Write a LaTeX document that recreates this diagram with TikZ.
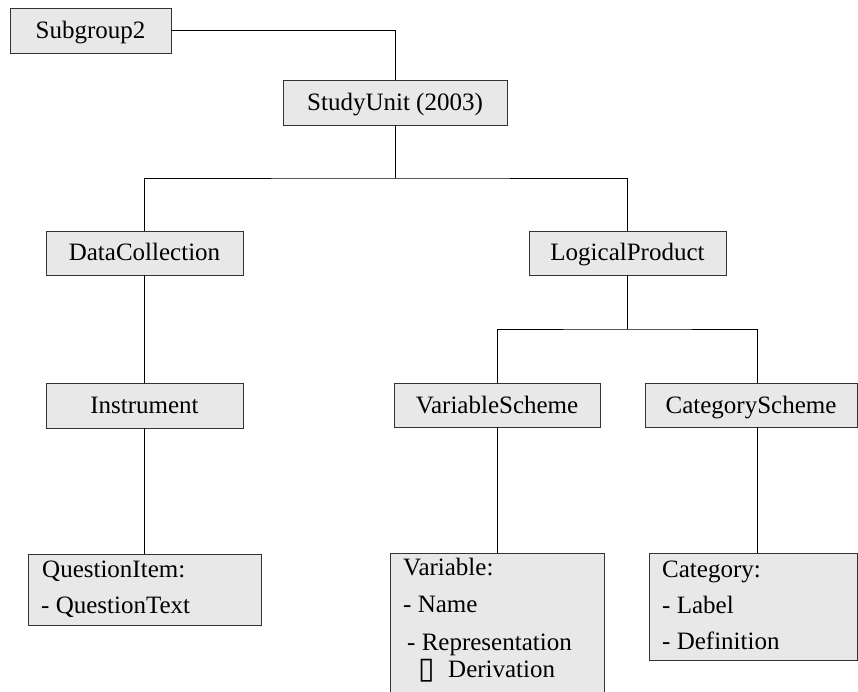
\documentclass[tikz,border=0pt]{standalone}
\usepackage{fontspec}
\setmainfont{Liberation Serif}
\newfontfamily\symfont{DejaVu Sans}
\definecolor{boxgray}{HTML}{E8E8E8}
\definecolor{boxline}{HTML}{333333}
\begin{document}
\begin{tikzpicture}[x=1pt,y=-1pt,
  box/.style={draw=boxline, fill=boxgray, line width=0.8pt, inner sep=0pt, font=\fontsize{25}{30}\selectfont},
  lbox/.style={box, text height=22pt, text depth=6pt},
  conn/.style={draw=black, line width=0.8pt},
  txt/.style={anchor=base west, inner sep=0pt, font=\fontsize{25}{30}\selectfont}]
\useasboundingbox[fill=white] (0,0) rectangle (858,692);

% single-line boxes
\node[lbox, minimum width=161pt, minimum height=45pt] (sub) at (90.5,30.5) {Subgroup2};
\node[lbox, minimum width=224pt, minimum height=45pt] (su) at (395,102.5) {StudyUnit (2003)};
\node[lbox, minimum width=197pt, minimum height=44pt] (dc) at (144.5,253) {DataCollection};
\node[lbox, minimum width=197pt, minimum height=44pt] (lp) at (627.5,253) {LogicalProduct};
\node[lbox, minimum width=197pt, minimum height=45pt] (inst) at (144.5,405.5) {Instrument};
\node[lbox, minimum width=206pt, minimum height=44pt] (vs) at (497,405) {VariableScheme};
\node[lbox, minimum width=212pt, minimum height=44pt] (cs) at (751,405) {CategoryScheme};

% multi-line boxes
\node[box, minimum width=233pt, minimum height=71pt] (qi) at (144.5,589.5) {};
\node[box, minimum width=214pt, minimum height=150pt] (var) at (497,628) {};
\node[box, minimum width=208pt, minimum height=107pt] (cat) at (753,606.5) {};

\node[txt] (qi1) at (42,577) {QuestionItem:};
\node[txt] (qi2) at (41,613) {- QuestionText};

\node[txt] (var1) at (403,575) {Variable:};
\node[txt] (var2) at (403,612) {- Name};
\node[txt] (var3) at (407,650) {- Representation};
\node[txt, font=\symfont\fontsize{30}{34}\selectfont] (var4) at (418,678) {▯};
\node[txt] (var5) at (448,677) {Derivation};

\node[txt] (cat1) at (662,577) {Category:};
\node[txt] (cat2) at (662,613) {- Label};
\node[txt] (cat3) at (662,649) {- Definition};

% connectors
\coordinate (j1) at (395,178);
\coordinate (j2) at (627.5,329);
\coordinate (ccol) at (757,0);

\draw[conn] (sub.east) -| (su.north);
\draw[conn] (su.south) -- (j1);
\draw[conn] (dc.north) |- (j1) -| (lp.north);
\draw[conn] (dc.south) -- (inst.north);
\draw[conn] (inst.south) -- (qi.north);
\draw[conn] (lp.south) -- (j2);
\draw[conn] (vs.north) |- (j2) -| (cs.north -| ccol);
\draw[conn] (vs.south) -- (var.north);
\draw[conn] (cs.south -| ccol) -- (cat.north -| ccol);
\end{tikzpicture}
\end{document}
